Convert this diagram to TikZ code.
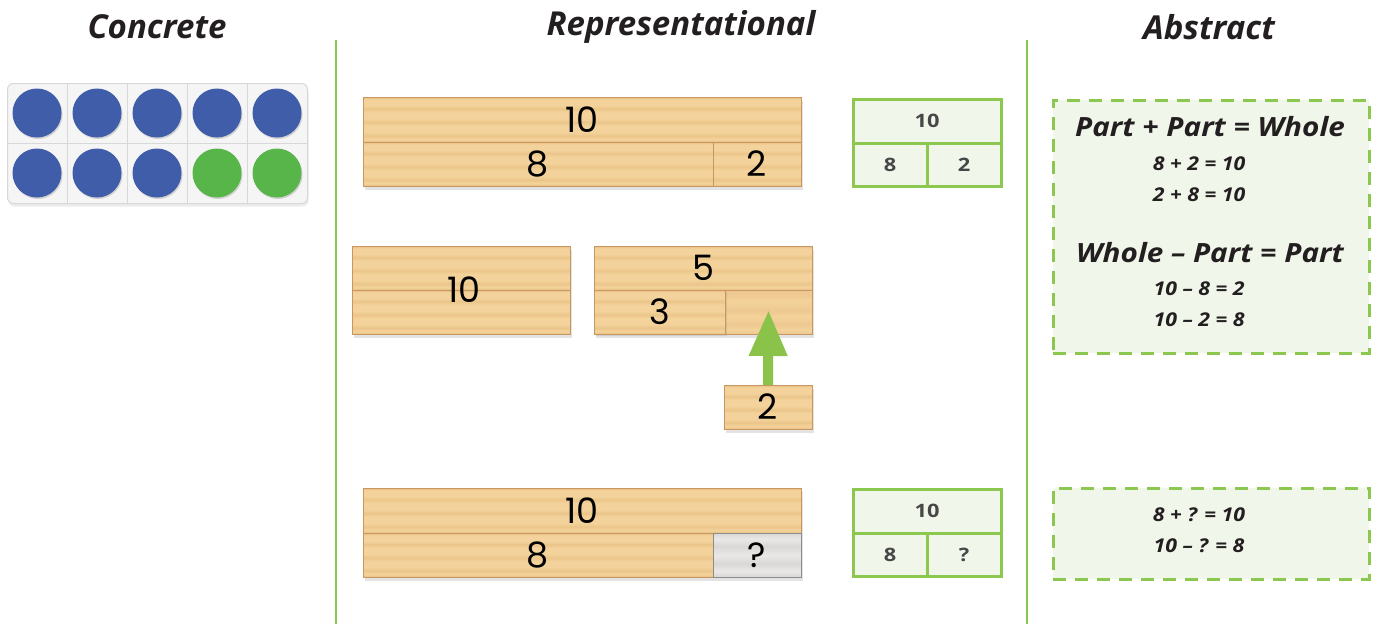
\documentclass[tikz,border=0pt]{standalone}
\usepackage{fontspec}
\setmainfont{Open Sans}
\newfontfamily\headfont{Open Sans}
\newfontfamily\eqfont[FakeStretch=1.12]{Open Sans}
\newfontfamily\numfont{Poppins}
\newfontfamily\boxfont[FakeStretch=1.18]{Open Sans}
\usetikzlibrary{shadows,arrows.meta,calc}
\definecolor{woodA}{HTML}{F3D39B}
\definecolor{woodB}{HTML}{E8C083}
\definecolor{woodC}{HTML}{EBC58A}
\definecolor{woodD}{HTML}{EDC890}
\definecolor{woodline}{HTML}{C99560}
\definecolor{grayA}{HTML}{EAE8E6}
\definecolor{grayB}{HTML}{DAD8D6}
\definecolor{lgreen}{HTML}{8CC850}
\definecolor{gfill}{HTML}{F1F6EA}
\definecolor{headcol}{HTML}{231F20}
\definecolor{dotblue}{HTML}{3F5DA8}
\definecolor{dotgreen}{HTML}{58B54A}
\definecolor{framefill}{HTML}{F5F5F5}
\definecolor{frameline}{HTML}{D8D8D8}
\definecolor{arrowgreen}{HTML}{8BC34A}
\pgfdeclareverticalshading{woodgrain}{100bp}{color(0bp)=(woodB); color(25bp)=(woodB); color(28bp)=(woodA); color(32bp)=(woodC); color(36bp)=(woodA); color(43bp)=(woodA); color(47bp)=(woodC); color(51bp)=(woodA); color(58bp)=(woodA); color(62bp)=(woodC); color(66bp)=(woodA); color(72bp)=(woodA); color(75bp)=(woodB); color(100bp)=(woodB)}
\pgfdeclareverticalshading{woodgrainD}{100bp}{color(0bp)=(woodD); color(25bp)=(woodD); color(30bp)=(woodA); color(36bp)=(woodD); color(45bp)=(woodA); color(52bp)=(woodD); color(62bp)=(woodA); color(70bp)=(woodD); color(100bp)=(woodD)}
\pgfdeclareverticalshading{graygrain}{100bp}{color(0bp)=(grayB); color(25bp)=(grayB); color(32bp)=(grayA); color(40bp)=(grayB); color(50bp)=(grayA); color(60bp)=(grayB); color(68bp)=(grayA); color(75bp)=(grayB); color(100bp)=(grayB)}
\tikzset{
  woodpiece/.style={draw=woodline, line width=0.9pt, shading=woodgrain, inner sep=0pt, outer sep=0pt, anchor=north west, font=\numfont\fontsize{35}{40}\selectfont, text=black},
  gappiece/.style={woodpiece, shading=woodgrainD},
  graypiece/.style={woodpiece, shading=graygrain, draw=black!45},
  barshadow/.style={fill=woodA, inner sep=0pt, outer sep=0pt, anchor=north west, drop shadow={shadow xshift=2pt, shadow yshift=-4pt, opacity=0.22}},
  woodnum/.style={font=\numfont\fontsize{35}{40}\selectfont, text=black, inner sep=0pt},
  gcell/.style={draw=lgreen, line width=3pt, fill=gfill, inner sep=0pt, outer sep=0pt, anchor=north west, font=\boxfont\fontsize{18.5}{22}\selectfont\bfseries, text=black!72},
  dashbox/.style={draw=lgreen, line width=2.5pt, dash pattern=on 13pt off 9pt, fill=gfill, inner sep=0pt, anchor=north west},
  heading/.style={font=\headfont\fontsize{33}{38}\selectfont\bfseries\itshape, text=headcol, inner sep=0pt},
  bigeq/.style={font=\eqfont\fontsize{26.5}{30}\selectfont\bfseries\itshape, text=headcol, inner sep=0pt},
  smalleq/.style={font=\eqfont\fontsize{19}{22}\selectfont\bfseries\itshape, text=headcol, inner sep=0pt},
  divider/.style={draw=lgreen, line width=1.5pt},
  counter/.style={circle, inner sep=0pt, minimum size=49pt, drop shadow={shadow xshift=1pt, shadow yshift=-1.5pt, opacity=0.3}},
  arrowc/.style={draw=arrowgreen, line width=10pt, -{Triangle[width=36pt,length=46pt]}},
}
\begin{document}
\begin{tikzpicture}[x=1pt,y=-1pt]
\useasboundingbox[fill=white] (0,0) rectangle (1376,624);
% headings
\node[heading] (hconc) at (157,27) {Concrete};
\node[heading] (hrep) at (681,27) {Representational};
\node[heading] (habs) at (1209,27) {Abstract};
% dividers
\coordinate (d1a) at (336,40); \coordinate (d1b) at (336,624);
\coordinate (d2a) at (1027,40); \coordinate (d2b) at (1027,624);
\draw[divider] (d1a) -- (d1b);
\draw[divider] (d2a) -- (d2b);
% ten frame
\node[draw=frameline, line width=1pt, fill=framefill, rounded corners=6pt, minimum width=300pt, minimum height=120pt, inner sep=0pt, anchor=north west, drop shadow={shadow xshift=1pt, shadow yshift=-3pt, opacity=0.15}] (frame) at (7,83) {};
\foreach \i in {1,...,4} {\draw[frameline, line width=1pt] (7+60*\i,83) -- (7+60*\i,203);}
\draw[frameline, line width=1pt] (7,143) -- (307,143);
\foreach \i in {0,...,4} {\node[counter, fill=dotblue] (ta\i) at (37+60*\i,113) {};}
\foreach \i in {0,1,2} {\node[counter, fill=dotblue] (tb\i) at (37+60*\i,173) {};}
\foreach \i in {3,4} {\node[counter, fill=dotgreen] (tb\i) at (37+60*\i,173) {};}
% row 1 wood bar
\node[barshadow, minimum width=438pt, minimum height=89pt] (r1) at (363,97) {};
\node[woodpiece, minimum width=438pt, minimum height=45pt] (r1top) at (363,97) {10};
\node[woodpiece, minimum width=350pt, minimum height=44pt] (r1a) at (363,142) {8};
\node[woodpiece, minimum width=88pt, minimum height=44pt] (r1b) at (713,142) {2};
% row 1 bar model
\node[gcell, minimum width=148pt, minimum height=44pt] (g1top) at (853,99) {10};
\node[gcell, minimum width=74pt, minimum height=43pt] (g1a) at (853,143) {8};
\node[gcell, minimum width=74pt, minimum height=43pt] (g1b) at (927,143) {2};
% row 2
\node[barshadow, minimum width=218pt, minimum height=88pt] (r2ten) at (352,246) {};
\node[woodpiece, minimum width=218pt, minimum height=44pt] (r2tenA) at (352,246) {};
\node[woodpiece, minimum width=218pt, minimum height=44pt] (r2tenB) at (352,290) {};
\node[woodnum] (r2tentxt) at (464,290) {10};
\node[barshadow, minimum width=218pt, minimum height=88pt] (r2five) at (594,246) {};
\node[woodpiece, minimum width=218pt, minimum height=44pt] (r2top) at (594,246) {5};
\node[gappiece, minimum width=87pt, minimum height=44pt] (r2gap) at (725,290) {};
\node[woodpiece, minimum width=131pt, minimum height=44pt, drop shadow={shadow xshift=2pt, shadow yshift=-2pt, opacity=0.2}] (r2three) at (594,290) {3};
\node[barshadow, minimum width=88pt, minimum height=44pt] (twoS) at (724,385) {};
\node[woodpiece, minimum width=88pt, minimum height=44pt] (two) at (724,385) {2};
\draw[arrowc] (two.north) -- ($(r2gap.south)+(0,-24)$);
% row 3 wood bar
\node[barshadow, minimum width=438pt, minimum height=89pt] (r3) at (363,488) {};
\node[woodpiece, minimum width=438pt, minimum height=45pt] (r3top) at (363,488) {10};
\node[woodpiece, minimum width=350pt, minimum height=44pt] (r3a) at (363,533) {8};
\node[graypiece, minimum width=88pt, minimum height=44pt] (r3b) at (713,533) {?};
% row 3 bar model
\node[gcell, minimum width=148pt, minimum height=44pt] (g3top) at (853,489) {10};
\node[gcell, minimum width=74pt, minimum height=43pt] (g3a) at (853,533) {8};
\node[gcell, minimum width=74pt, minimum height=43pt] (g3b) at (927,533) {?};
% abstract boxes
\node[dashbox, minimum width=316pt, minimum height=253pt] (ab1) at (1052,99) {};
\node[bigeq] (e1) at (1210,127) {Part + Part = Whole};
\node[smalleq] (e2) at (1199,164) {8 + 2 = 10};
\node[smalleq] (e3) at (1199,195) {2 + 8 = 10};
\node[bigeq] (e4) at (1210,253) {Whole – Part = Part};
\node[smalleq] (e5) at (1199,289) {10 – 8 = 2};
\node[smalleq] (e6) at (1199,320) {10 – 2 = 8};
\node[dashbox, minimum width=316pt, minimum height=91pt] (ab2) at (1052,487) {};
\node[smalleq] (e7) at (1199,515) {8 + ? = 10};
\node[smalleq] (e8) at (1199,546) {10 – ? = 8};
\end{tikzpicture}
\end{document}
